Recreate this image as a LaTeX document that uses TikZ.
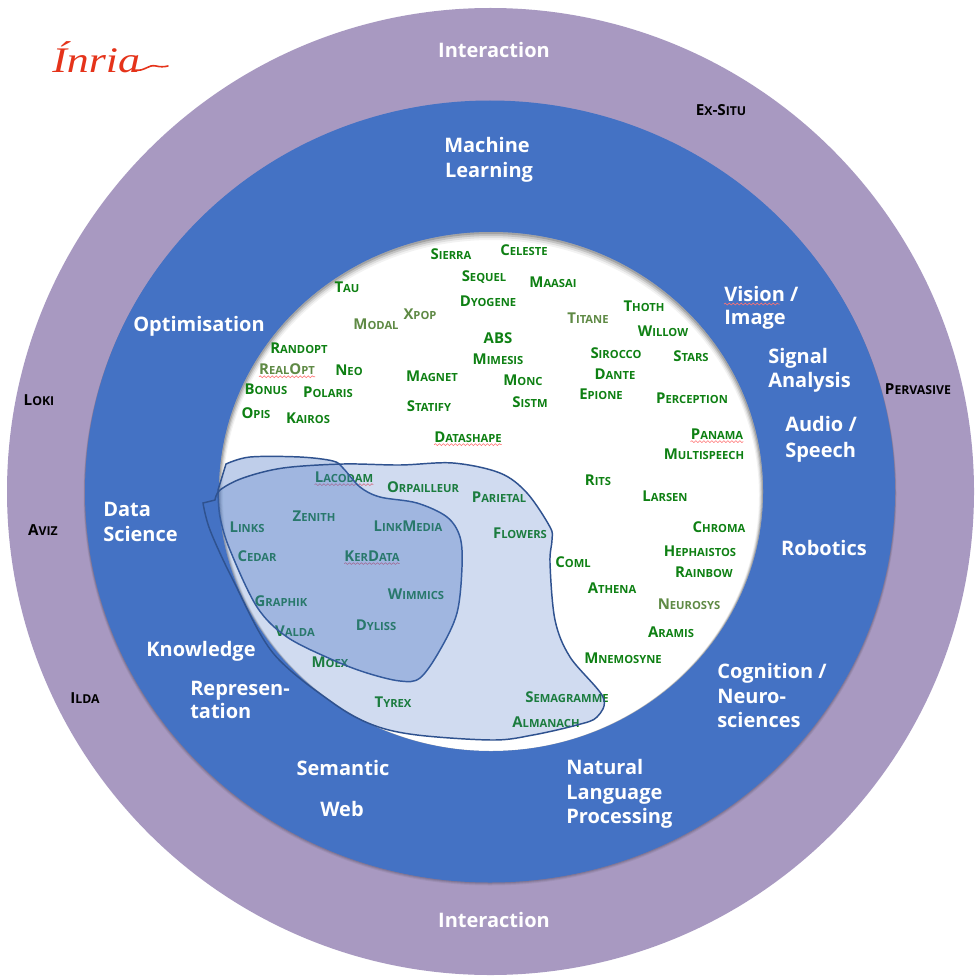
\documentclass[tikz,border=0pt]{standalone}
\usepackage{fontspec}
\setmainfont{Open Sans}[BoldFont={Open Sans Bold}]
\newfontfamily\logofont{Liberation Serif}
\usetikzlibrary{decorations.pathmorphing}
\definecolor{purplering}{HTML}{A899C1}
\definecolor{bluering}{HTML}{4472C4}
\definecolor{blobline}{HTML}{2F528F}
\definecolor{teamgreen}{HTML}{0E8013}
\definecolor{teamolive}{HTML}{5F8A45}
\definecolor{logored}{HTML}{E5331A}
\newcommand\smsize{8.4}
\newcommand\sm[1]{{\fontsize{\smsize}{10}\selectfont #1}}
\tikzset{
  x=0.75pt,y=-0.75pt,
  topic/.style={font=\bfseries\fontsize{15}{18}\selectfont,text=white,inner sep=0,text height=10.7pt,text depth=0pt},
  topicl/.style={topic,anchor=west},
  team/.style={font=\bfseries\fontsize{11.2}{13}\selectfont,text=teamgreen,inner sep=0},
  oteam/.style={team,text=teamolive},
  outer/.style={font=\renewcommand\smsize{9.2}\bfseries\fontsize{11.4}{13}\selectfont,text=black,inner sep=0},
  spell/.style={draw=red!55!white,line width=0.45pt,decorate,decoration={snake,amplitude=0.7pt,segment length=3pt}},
  blob/.style={draw=blobline,line width=1.1pt,fill=bluering,fill opacity=0.25},
  darkblob/.style={blob,fill opacity=0.34},
}
\begin{document}
\begin{tikzpicture}
\useasboundingbox (0,0) rectangle (980,977);
\fill[white] (0,0) rectangle (980,977);
% discs
\fill[purplering] (490.5,491.5) circle [radius=483.5];
\foreach \d/\o in {3/.06,2/.08,1/.10}
  \fill[black,opacity=\o] (490,491.5+\d) ellipse [x radius=405+\d/2,y radius=391];
\fill[bluering] (490,491.5) ellipse [x radius=405,y radius=391];
\fill[white] (491,491.5) ellipse [x radius=272,y radius=259.5];
\foreach \d/\o in {0/.16,1/.12,2/.08,3/.05}
  \fill[black,opacity=\o,even odd rule] (491,491.5) ellipse [x radius=272,y radius=259.5]
     (491,492.5+\d) ellipse [x radius=271-\d,y radius=258.5-\d];
% logo
\node[inner sep=0,anchor=west,text=logored,xscale=1.22] (logo) at (52,57) {\logofont\itshape\fontsize{27}{30}\selectfont Ínria};
\coordinate (tailA) at (134,70);
\coordinate (tailB) at (168,66);
\draw[logored,line width=1.2pt,line cap=round] (tailA) .. controls (145,72) and (148,64) .. (156,66) .. controls (160,67) and (164,67) .. (tailB);
% ring labels
\node[topic] (int1) at (494,50) {Interaction};
\node[topic] (int2) at (494,920) {Interaction};
\node[topic] (ml1) at (487,145) {Machine};
\node[topic] (ml2) at (489,170) {Learning};
\node[topic] (opt) at (199,324) {Optimisation};
\node[topicl] (ds1) at (103,509) {Data};
\node[topicl] (ds2) at (103,534) {Science};
\node[topic] (kn) at (201,649) {Knowledge};
\node[topicl] (re1) at (190,688) {Represen-};
\node[topicl] (re2) at (190,711) {tation};
\node[topic] (sw1) at (343,768) {Semantic};
\node[topic] (sw2) at (342,809) {Web};
\node[topicl] (nl1) at (566,767) {Natural};
\node[topicl] (nl2) at (566,792) {Language};
\node[topicl] (nl3) at (566,816) {Processing};
\node[topicl] (co1) at (717,671) {Cognition /};
\node[topicl] (co2) at (717,696) {Neuro-};
\node[topicl] (co3) at (717,720) {sciences};
\node[topic] (rob) at (824,548) {Robotics};
\node[topicl] (au1) at (785,424) {Audio /};
\node[topicl] (au2) at (785,450) {Speech};
\node[topicl] (si1) at (768,356) {Signal};
\node[topicl] (si2) at (768,380) {Analysis};
\node[topicl] (vi1) at (724,294) {Vision /};
\node[topicl] (vi2) at (724,317) {Image};
% outer teams
\node[outer] (exsitu) at (721,110) {E\sm{X}-S\sm{ITU}};
\node[outer] (pervasive) at (918,389) {P\sm{ERVASIVE}};
\node[outer] (loki) at (39,400) {L\sm{OKI}};
\node[outer] (aviz) at (43,530) {A\sm{VIZ}};
\node[outer] (ilda) at (85,698) {I\sm{LDA}};
% inner teams
\node[team] (sierra) at (451,254) {S\sm{IERRA}};
\node[team] (celeste) at (524,250) {C\sm{ELESTE}};
\node[team] (sequel) at (484,277) {S\sm{EQUEL}};
\node[team] (maasai) at (553,282) {M\sm{AASAI}};
\node[team] (dyogene) at (488,301) {D\sm{YOGENE}};
\node[team] (tau) at (347,287) {T\sm{AU}};
\node[oteam] (modal) at (376,324) {M\sm{ODAL}};
\node[oteam] (xpop) at (420,314) {X\sm{POP}};
\node[oteam] (titane) at (588,318) {T\sm{ITANE}};
\node[team] (thoth) at (644,306) {T\sm{HOTH}};
\node[team] (willow) at (663,331) {W\sm{ILLOW}};
\node[team] (abs) at (498,338) {ABS};
\node[team] (mimesis) at (498,359) {M\sm{IMESIS}};
\node[team] (sirocco) at (616,353) {S\sm{IROCCO}};
\node[team] (stars) at (691,356) {S\sm{TARS}};
\node[team] (randopt) at (299,348) {R\sm{ANDOPT}};
\node[oteam] (realopt) at (287,369) {R\sm{EAL}O\sm{PT}};
\node[team] (neo) at (349,370) {N\sm{EO}};
\node[team] (magnet) at (432,376) {M\sm{AGNET}};
\node[team] (monc) at (523,380) {M\sm{ONC}};
\node[team] (dante) at (615,374) {D\sm{ANTE}};
\node[team] (bonus) at (266,389) {B\sm{ONUS}};
\node[team] (polaris) at (328,392) {P\sm{OLARIS}};
\node[team] (sistm) at (530,402) {S\sm{ISTM}};
\node[team] (epione) at (601,394) {E\sm{PIONE}};
\node[team] (perception) at (692,398) {P\sm{ERCEPTION}};
\node[team] (opis) at (256,413) {O\sm{PIS}};
\node[team] (kairos) at (308,418) {K\sm{AIROS}};
\node[team] (statify) at (429,406) {S\sm{TATIFY}};
\node[team] (datashape) at (468,437) {D\sm{ATASHAPE}};
\node[team] (panama) at (717,434) {P\sm{ANAMA}};
\node[team] (multispeech) at (704,454) {M\sm{ULTISPEECH}};
\node[team] (rits) at (598,480) {R\sm{ITS}};
\node[team] (larsen) at (665,496) {L\sm{ARSEN}};
\node[team] (chroma) at (719,527) {C\sm{HROMA}};
\node[team] (hephaistos) at (700,551) {H\sm{EPHAISTOS}};
\node[team] (rainbow) at (704,572) {R\sm{AINBOW}};
\node[oteam] (neurosys) at (689,604) {N\sm{EUROSYS}};
\node[team] (aramis) at (671,632) {A\sm{RAMIS}};
\node[team] (mnemosyne) at (623,658) {M\sm{NEMOSYNE}};
\node[team] (athena) at (612,588) {A\sm{THENA}};
\node[team] (coml) at (573,562) {C\sm{OML}};
\node[team] (flowers) at (520,533) {F\sm{LOWERS}};
\node[team] (parietal) at (499,497) {P\sm{ARIETAL}};
\node[team] (orpailleur) at (423,487) {O\sm{RPAILLEUR}};
\node[team] (lacodam) at (344,477) {L\sm{ACODAM}};
\node[team] (zenith) at (314,516) {Z\sm{ENITH}};
\node[team] (links) at (247,527) {L\sm{INKS}};
\node[team] (linkmedia) at (408,526) {L\sm{INK}M\sm{EDIA}};
\node[team] (cedar) at (257,556) {C\sm{EDAR}};
\node[team] (kerdata) at (372,556) {K\sm{ER}D\sm{ATA}};
\node[team] (wimmics) at (416,594) {W\sm{IMMICS}};
\node[team] (graphik) at (281,601) {G\sm{RAPHIK}};
\node[team] (dyliss) at (376,625) {D\sm{YLISS}};
\node[team] (valda) at (295,631) {V\sm{ALDA}};
\node[team] (moex) at (330,662) {M\sm{OEX}};
\node[team] (tyrex) at (393,702) {T\sm{YREX}};
\node[team] (semagramme) at (567,697) {S\sm{EMAGRAMME}};
\node[team] (almanach) at (546,722) {A\sm{LMANACH}};
% spell-check underlines
\foreach \n in {realopt,datashape,panama,lacodam,kerdata}
  \draw[spell] ([yshift=-1.5pt]\n.south west) -- ([yshift=-1.5pt]\n.south east);
\draw[spell] ([yshift=-2pt]vi1.south west) -- ([yshift=-2pt,xshift=-14pt]vi1.south east);
% blobs
\path[darkblob] plot[smooth,tension=.55] coordinates {
  (226,464) (250,457) (300,457) (333,461) (343,468) (360,487) (380,497)
  (417,503) (447,517) (460,537) (462,567) (457,613) (440,650) (420,678)
  (400,681) (367,673) (333,660) (287,637) (257,607) (230,550) (220,517)
  (218,490)} -- cycle;
\path[blob] plot[smooth,tension=.55] coordinates {
  (203,503) (210,530) (233,580) (273,653) (333,703) (373,725) (417,735)
  (493,740) (533,735) (577,725) (597,717) (603,697) (570,657) (555,620)
  (550,563) (552,540) (550,527) (527,493) (500,473) (453,463) (400,465)
  (343,464) (283,468) (243,478) (220,490) (215,500)} -- cycle;
\end{tikzpicture}
\end{document}
